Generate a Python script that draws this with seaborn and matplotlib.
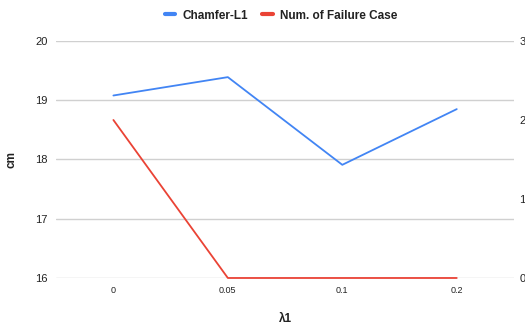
import matplotlib
matplotlib.use("Agg")
import matplotlib.pyplot as plt
import seaborn as sns
import pandas as pd

categories = ["0", "0.05", "0.1", "0.2"]
chamfer = [19.08, 19.39, 17.91, 18.85]
failures = [2, 0, 0, 0]
left_ticks = [16, 17, 18, 19, 20]
right_ticks = [0, 1, 2, 3]

sns.set_theme(style="white")
plt.rcParams['font.family'] = ['Liberation Sans', 'DejaVu Sans']

df = pd.DataFrame({"lam": categories, "chamfer": chamfer, "fail": failures})

fig = plt.figure(figsize=(5.25, 3.24), dpi=100)
ax = fig.add_axes([0.107, 0.142, 0.872, 0.7315])
ax2 = ax.twinx()

blue = "#4285F4"
red = "#EA4335"

sns.lineplot(data=df, x="lam", y="chamfer", ax=ax, color=blue, lw=1.3, sort=False,
             label="Chamfer-L1", legend=False, clip_on=False)
sns.lineplot(data=df, x="lam", y="fail", ax=ax2, color=red, lw=1.3, sort=False,
             label="Num. of Failure Case", legend=False, clip_on=False)

ax.set_ylim(16, 20)
ax.set_yticks(left_ticks)
ax2.set_ylim(0, 3)
ax2.set_yticks(right_ticks)
ax.set_xlim(-0.5, 3.5)

ax.grid(axis="y", color="#d0d0d0", lw=1)
ax.grid(axis="x", visible=False)
ax2.grid(False)
for a in (ax, ax2):
    for s in a.spines.values():
        s.set_visible(False)
    a.tick_params(length=0)

ax.tick_params(axis="y", labelsize=8, pad=6, colors="#222222")
ax.tick_params(axis="x", labelsize=6.5, pad=6, colors="#222222")
ax2.tick_params(axis="y", labelsize=8, pad=4, colors="#222222")

ax.set_xlabel("λ1", fontsize=8.5, fontweight="bold", color="#222222")
ax.set_ylabel("cm", fontsize=8.5, fontweight="bold", color="#222222")
ax.xaxis.set_label_coords(0.5, -0.146)
ax.yaxis.set_label_coords(-0.084, 0.5)
ax2.set_ylabel("")

h1, l1 = ax.get_legend_handles_labels()
h2, l2 = ax2.get_legend_handles_labels()
leg = fig.legend(h1 + h2, l1 + l2, loc="center", bbox_to_anchor=(0.535, 0.952), ncol=2,
                 frameon=False, fontsize=8.5, handlelength=0.9, handletextpad=0.6, columnspacing=1.2)
for t in leg.get_texts():
    t.set_fontweight("bold")
    t.set_color("#222222")
for line in leg.get_lines():
    line.set_linewidth(3)

fig.savefig("out.png", dpi=100)
